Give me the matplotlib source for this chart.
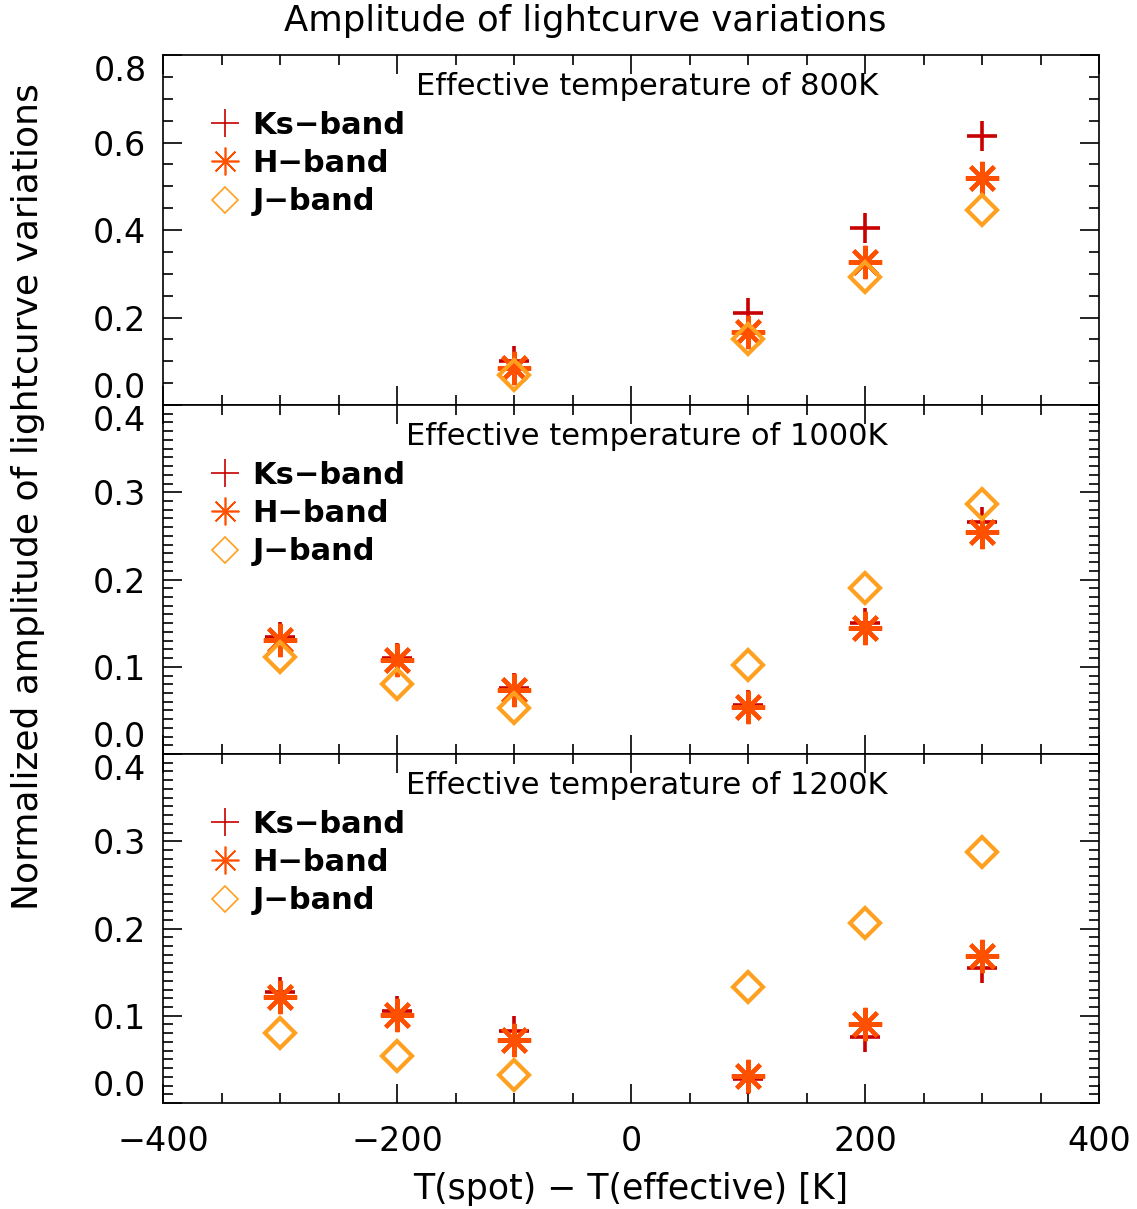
import numpy as np
import matplotlib
matplotlib.use("Agg")
import matplotlib.pyplot as plt
from matplotlib.lines import Line2D
from matplotlib.ticker import MultipleLocator, FormatStrFormatter

# spot temperature offsets [K]
dT = [-300, -200, -100, 100, 200, 300]
teff_labels = ["800K", "1000K", "1200K"]

# 800K panel: only the -100..300 offsets are plotted
dT_800 = [-100, 100, 200, 300]
ks_800 = [0.100, 0.210, 0.405, 0.615]
h_800 = [0.085, 0.167, 0.328, 0.518]
j_800 = [0.069, 0.151, 0.293, 0.445]

ks_1000 = [0.134, 0.110, 0.076, 0.056, 0.150, 0.266]
h_1000 = [0.131, 0.108, 0.073, 0.054, 0.144, 0.255]
j_1000 = [0.111, 0.080, 0.053, 0.102, 0.190, 0.286]

ks_1200 = [0.127, 0.106, 0.083, 0.027, 0.076, 0.155]
h_1200 = [0.122, 0.101, 0.072, 0.031, 0.091, 0.169]
j_1200 = [0.080, 0.054, 0.032, 0.133, 0.206, 0.288]

c_ks = "#c80000"
c_h = "#ff5000"
c_j = "#ffa020"

plt.rcParams['font.family'] = ['DejaVu Sans']

fig = plt.figure(figsize=(11.37, 12.09), dpi=100)
left, right = 0.1434, 0.9666
edges = [0.9545, 0.665, 0.3763, 0.0877]

panels = [
    (dT_800, ks_800, h_800, j_800, [0.0, 0.2, 0.4, 0.6, 0.8], 0.05),
    (dT, ks_1000, h_1000, j_1000, [0.0, 0.1, 0.2, 0.3, 0.4], 0.01),
    (dT, ks_1200, h_1200, j_1200, [0.0, 0.1, 0.2, 0.3, 0.4], 0.01),
]

axes = []
for i, (x, ks, hb, jb, yticks, mnr) in enumerate(panels):
    ax = fig.add_axes([left, edges[i + 1], right - left, edges[i] - edges[i + 1]])
    axes.append(ax)
    ax.plot(x, ks, ls='none', marker='+', ms=22, mew=2.6, color=c_ks)
    ax.plot(x, hb, ls='none', marker=(8, 2, 0), ms=24, mew=3.0, color=c_h)
    ax.plot(x, jb, ls='none', marker='D', ms=15, mew=3.0, mfc='none', color=c_j)

    ax.xaxis.set_major_locator(MultipleLocator(200))
    ax.xaxis.set_minor_locator(MultipleLocator(50))
    ax.set_yticks(yticks)
    ax.yaxis.set_minor_locator(MultipleLocator(mnr))
    ax.set_xlim(-400, 400)
    ax.set_ylim(yticks[0], yticks[-1])
    ax.tick_params(which='both', direction='in', top=True, right=True, width=1.2)
    ax.tick_params(which='major', length=14)
    ax.tick_params(which='minor', length=7)
    ax.tick_params(axis='y', labelsize=24, pad=12)
    ax.yaxis.set_major_formatter(FormatStrFormatter('%.1f'))
    if i < 2:
        ax.tick_params(axis='x', labelbottom=False)
    else:
        ax.tick_params(axis='x', labelsize=24, pad=16)
    for s in ax.spines.values():
        s.set_linewidth(1.2)

    # end labels pulled inward so stacked panels don't collide
    yt = ax.yaxis.get_major_ticks()
    yt[0].label1.set_va('bottom')
    yt[-1].label1.set_va('top')

    ax.text(0.517, 0.91, "Effective temperature of " + teff_labels[i],
            transform=ax.transAxes, ha='center', va='center', fontsize=22)

    handles = [
        Line2D([], [], ls='none', marker='+', ms=20, mew=1.2, color=c_ks),
        Line2D([], [], ls='none', marker=(8, 2, 0), ms=20, mew=1.2, color=c_h),
        Line2D([], [], ls='none', marker='D', ms=13, mew=1.2, mfc='none', color=c_j),
    ]
    ax.legend(handles, ["Ks\u2212band", "H\u2212band", "J\u2212band"],
              loc='upper left', bbox_to_anchor=(0.037, 0.875), frameon=False,
              prop={'size': 22, 'weight': 'bold'}, handlelength=1.0,
              handletextpad=0.4, labelspacing=0.3, borderaxespad=0)

axes[-1].set_xlabel("T(spot) \u2212 T(effective) [K]", fontsize=25, labelpad=10)
fig.text(0.515, 0.983, "Amplitude of lightcurve variations", ha='center', va='center',
         fontsize=25.5)
fig.text(0.025, 0.589, "Normalized amplitude of lightcurve variations", rotation=90,
         ha='center', va='center', fontsize=26)

fig.savefig("out.png", dpi=100)
